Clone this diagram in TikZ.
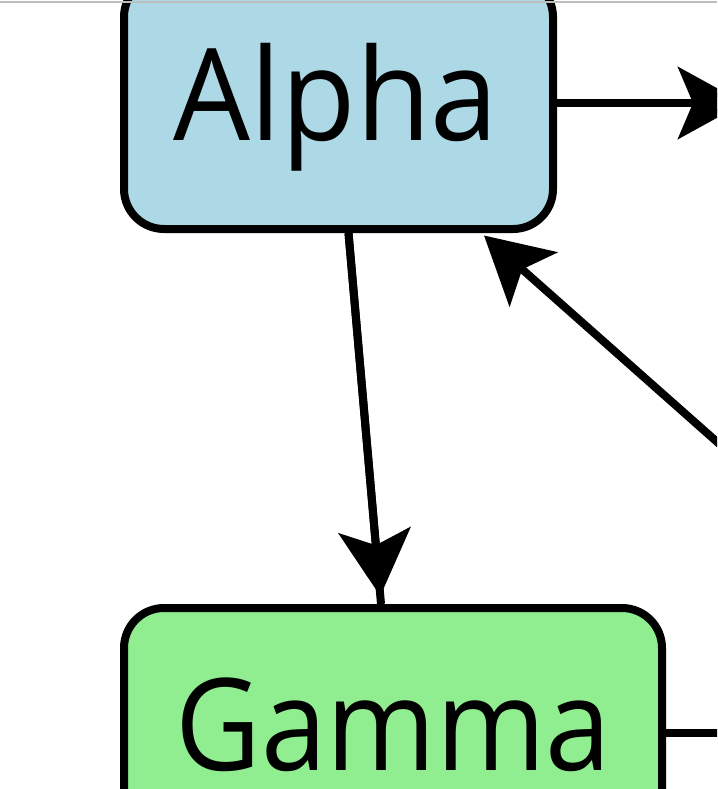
\documentclass[tikz,border=0pt]{standalone}
\usepackage{fontspec}
\setmainfont{Open Sans}
\usetikzlibrary{arrows.meta}
\definecolor{boxblue}{RGB}{173,216,230}
\definecolor{boxgreen}{RGB}{144,238,144}
\definecolor{framegray}{RGB}{190,190,190}
\tikzset{
  box/.style={draw=black, line width=8pt, rounded corners=40pt, inner sep=0pt},
  lbl/.style={inner sep=0pt, font=\fontsize{128}{150}\selectfont},
  edgeline/.style={draw=black, line width=8pt},
  edgetip/.style={draw=black, line width=8pt, -{Stealth[length=66pt,width=72pt,inset=15pt]}},
}
\begin{document}
\begin{tikzpicture}[x=1pt,y=-1pt]
\useasboundingbox (0,0) rectangle (717,789);
\clip (0,0) rectangle (717,789);
\fill[white] (0,0) rectangle (717,789);
% nodes
\node[box, fill=boxblue, minimum width=429pt, minimum height=252pt] (alpha) at (338.5,103) {};
\node[box, fill=boxgreen, minimum width=538pt, minimum height=250pt] (gamma) at (393,733) {};
\node[lbl, anchor=base] (alphaT) at (336,140) {\scalebox{0.95}[1]{Alpha}};
\node[lbl, anchor=base] (gammaT) at (393.5,770) {\scalebox{0.92}[1]{Gamma}};
% off-picture ends
\coordinate (e1) at (744,103);
\coordinate (e3) at (760,480);
\coordinate (e4) at (760,733);
% edges
\draw[edgetip] (alpha.east) -- (e1);
\draw[edgeline] ([xshift=10pt]alpha.south) -- ([xshift=-12pt]gamma.north);
\draw[edgetip, shorten >=8pt] ([xshift=10pt]alpha.south) -- ([xshift=-12pt]gamma.north);
\draw[edgetip] (e3) -- ([xshift=-73pt,yshift=-2.5pt]alpha.south east);
\draw[edgeline] (gamma.east) -- (e4);
% frame line at top
\draw[framegray, line width=1.5pt] (0,2) -- (717,2);
\end{tikzpicture}
\end{document}
